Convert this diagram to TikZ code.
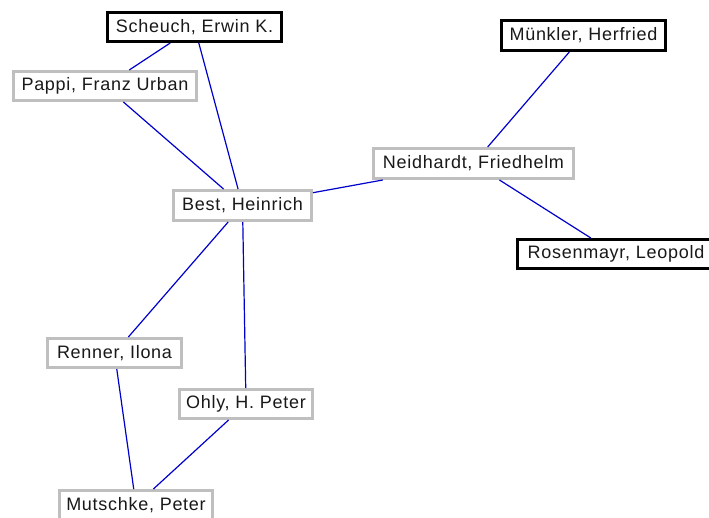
\documentclass[tikz,border=0pt]{standalone}
\usepackage{fontspec}
\setmainfont[LetterSpace=4]{Liberation Sans}
\begin{document}
\begin{tikzpicture}[x=1pt,y=-1pt,
  person/.style={draw=black!25,line width=3pt,fill=white,inner sep=0pt,font=\fontsize{18}{20}\selectfont,text=black!90},
  key/.style={person,draw=black},
  link/.style={draw=blue!80!black,line width=1.2pt}]
\clip (0,0) rectangle (709,518);
\fill[white] (0,0) rectangle (709,518);
\node[key,minimum width=174pt,minimum height=29pt] (scheuch) at (194.5,27) {Scheuch, Erwin K.};
\node[person,minimum width=183pt,minimum height=29pt] (pappi) at (105,86) {Pappi, Franz Urban};
\node[key,minimum width=164pt,minimum height=30pt] (munkler) at (583.5,35.5) {Münkler, Herfried};
\node[person,minimum width=200pt,minimum height=30pt] (neid) at (473.5,163.5) {Neidhardt, Friedhelm};
\node[key,minimum width=197pt,minimum height=29pt] (rosen) at (616,254) {Rosenmayr, Leopold};
\node[person,minimum width=138pt,minimum height=30pt] (best) at (242.5,205.5) {Best, Heinrich};
\node[person,minimum width=134pt,minimum height=29pt] (renner) at (114.5,353) {Renner, Ilona};
\node[person,minimum width=133pt,minimum height=29pt] (ohly) at (246,404) {Ohly, H. Peter};
\node[person,minimum width=153pt,minimum height=29pt] (mutschke) at (136,505) {Mutschke, Peter};
\draw[link] (scheuch) -- (pappi);
\draw[link] (scheuch) -- (best);
\draw[link] (pappi) -- (best);
\draw[link] (best) -- (neid);
\draw[link] (neid) -- (munkler);
\draw[link] (neid) -- (rosen);
\draw[link] (best) -- (renner);
\draw[link] (best) -- (ohly);
\draw[link] (renner) -- (mutschke);
\draw[link] (ohly) -- (mutschke);
\end{tikzpicture}
\end{document}
